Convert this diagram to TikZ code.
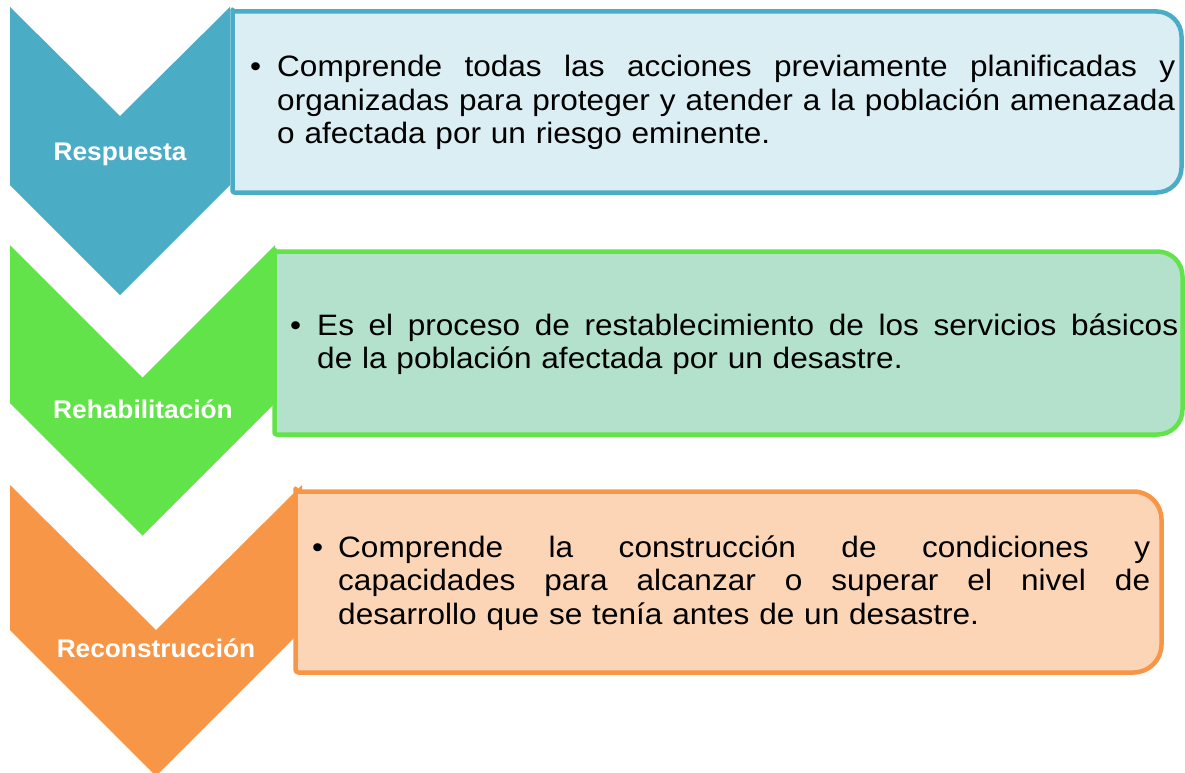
\documentclass[tikz,border=0pt]{standalone}
\usepackage{fontspec}
\setmainfont{Liberation Sans}
\newfontfamily\bodyfont[FakeStretch=1.07]{Liberation Sans}
\newfontfamily\labelfont[FakeStretch=1.03]{Liberation Sans}
\newcommand\jline[2]{\leavevmode\hbox to #1{\spaceskip=0.297em plus 1fil minus 0.08em\relax #2}}
\definecolor{cblue}{HTML}{4BACC6}
\definecolor{fblue}{HTML}{DAEEF3}
\definecolor{cgreen}{HTML}{62E34A}
\definecolor{fgreen}{HTML}{B3E1CB}
\definecolor{corange}{HTML}{F79646}
\definecolor{forange}{HTML}{FBD5B5}
\tikzset{
  chev/.style={fill=#1, draw=none},
  infobox/.style={draw=#1, line width=4.5pt, line join=round},
  lbl/.style={text=white, inner sep=0pt, anchor=base, font=\labelfont\bfseries\fontsize{25.5}{30}\selectfont},
  bul/.style={inner sep=0pt, anchor=base west, font=\bodyfont\fontsize{29.5}{33.5}\selectfont},
  body/.style={inner sep=0pt, anchor=base west, align=left, font=\bodyfont\fontsize{29.5}{33.5}\selectfont}
}
\begin{document}
\begin{tikzpicture}[x=1pt,y=-1pt]
\useasboundingbox (0,0) rectangle (1185,773);
\clip (0,0) rectangle (1185,773);
% chevrons
\path[chev=cblue] (10,7) -- (120,116) -- (230,7) -- (230,185) -- (120,295) -- (10,185) -- cycle;
\path[chev=cgreen] (10,245) -- (142.5,377.5) -- (275,245) -- (275,403) -- (142.5,535.5) -- (10,403) -- cycle;
\path[chev=corange] (10,485) -- (156,630) -- (302,485) -- (302,630) -- (156,776) -- (10,630) -- cycle;
% boxes
\draw[infobox=cblue, fill=fblue] (232.5,11.5) -- (1157,11.5) [rounded corners=25pt] -- (1181.5,11.5) -- (1181.5,192.5) [sharp corners] -- (1157,192.5) [rounded corners=2pt] -- (232.5,192.5) -- (232.5,11.5) -- cycle;
\draw[infobox=cgreen, fill=fgreen] (274.5,251.5) -- (1157,251.5) [rounded corners=25pt] -- (1182.5,251.5) -- (1182.5,434.5) [sharp corners] -- (1157,434.5) [rounded corners=2pt] -- (274.5,434.5) -- (274.5,251.5) -- cycle;
\draw[infobox=corange, fill=forange] (295.5,491.5) -- (1133,491.5) [rounded corners=28pt] -- (1161.5,491.5) -- (1161.5,672.5) [sharp corners] -- (1133,672.5) [rounded corners=3pt] -- (295.5,672.5) -- (295.5,491.5) -- cycle;
% labels
\node[lbl] (l1) at (120,160) {Respuesta};
\node[lbl] (l2) at (143,418) {Rehabilitación};
\node[lbl] (l3) at (156,657) {Reconstrucción};
% bullets
\node[bul] (b1) at (250,77) {•};
\node[bul] (b2) at (290,335) {•};
\node[bul] (b3) at (312,557) {•};
% texts
\node[body, text width=898pt] (t1) at (277,77) {\jline{898pt}{Comprende todas las acciones previamente planificadas y}\\\jline{898pt}{organizadas para proteger y atender a la población amenazada}\\o afectada por un riesgo eminente.};
\node[body, text width=861pt] (t2) at (317,335) {\jline{861pt}{Es el proceso de restablecimiento de los servicios básicos}\\de la población afectada por un desastre.};
\node[body, text width=812pt] (t3) at (338,557) {\jline{812pt}{Comprende la construcción de condiciones y}\\\jline{812pt}{capacidades para alcanzar o superar el nivel de}\\desarrollo que se tenía antes de un desastre.};
\end{tikzpicture}
\end{document}
